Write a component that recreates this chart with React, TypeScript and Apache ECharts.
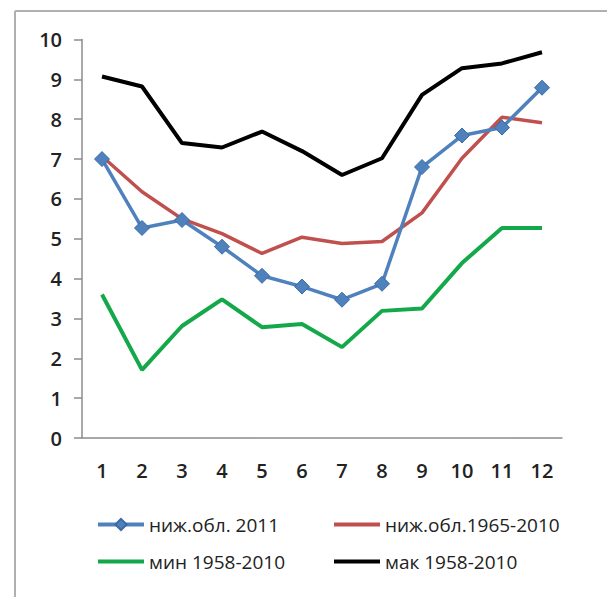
import React, { useEffect, useRef } from "react";
import * as echarts from "echarts";

const months = ["1", "2", "3", "4", "5", "6", "7", "8", "9", "10", "11", "12"];
const yTicks = [0, 1, 2, 3, 4, 5, 6, 7, 8, 9, 10];
const lower2011 = [7.0, 5.27, 5.47, 4.8, 4.07, 3.8, 3.47, 3.87, 6.8, 7.59, 7.79, 8.79];
const lower1965 = [7.07, 6.18, 5.5, 5.13, 4.63, 5.04, 4.88, 4.93, 5.65, 7.02, 8.05, 7.91];
const min1958 = [3.6, 1.71, 2.81, 3.48, 2.78, 2.86, 2.28, 3.19, 3.25, 4.39, 5.27, 5.27];
const max1958 = [9.07, 8.82, 7.4, 7.29, 7.69, 7.2, 6.6, 7.02, 8.61, 9.28, 9.4, 9.68];
const seriesNames = ["ниж.обл. 2011", "ниж.обл.1965-2010", "мин 1958-2010", "мак 1958-2010"];

export default function App() {
  const ref = useRef<HTMLDivElement>(null);
  useEffect(() => {
    if (!ref.current) return;
    const chart = echarts.init(ref.current, null, { renderer: "svg" });
    const axisColor = "#8c8c8c";
    const labelFont = { fontFamily: "Open Sans", fontSize: 20, fontWeight: 600, color: "#222" };
    const legendText = { fontFamily: "Open Sans", fontSize: 19, fontWeight: 500, color: "#222" };
    const plainItem = (name: string) => ({ name, itemStyle: { opacity: 0 } });
    chart.setOption({
      animation: false,
      backgroundColor: "#fff",
      grid: { left: 82, right: 45, top: 39.5, bottom: 159 },
      xAxis: {
        type: "category",
        data: months,
        boundaryGap: true,
        axisLine: { lineStyle: { color: axisColor, width: 1.5 } },
        axisTick: { alignWithLabel: false, length: 8, lineStyle: { color: axisColor, width: 1.5 } },
        axisLabel: { ...labelFont, margin: 22 },
      },
      yAxis: {
        type: "value",
        min: yTicks[0],
        max: yTicks[yTicks.length - 1],
        interval: 1,
        axisLine: { show: true, lineStyle: { color: axisColor, width: 1.5 } },
        axisTick: { show: true, length: 8, lineStyle: { color: axisColor, width: 1.5 } },
        splitLine: { show: false },
        axisLabel: { ...labelFont, margin: 20 },
      },
      legend: [
        {
          orient: "vertical",
          left: 91,
          top: 510,
          itemWidth: 46,
          itemHeight: 14,
          itemGap: 18,
          lineStyle: { width: 4 },
          textStyle: legendText,
          data: [seriesNames[0], plainItem(seriesNames[2])],
        },
        {
          orient: "vertical",
          left: 327,
          top: 510,
          itemWidth: 46,
          itemHeight: 14,
          itemGap: 18,
          lineStyle: { width: 4 },
          textStyle: legendText,
          data: [plainItem(seriesNames[1]), plainItem(seriesNames[3])],
        },
      ],
      graphic: [
        { type: "line", shape: { x1: 15, y1: 11, x2: 607, y2: 11 }, style: { stroke: "#b0b0b0", lineWidth: 2 } },
        { type: "line", shape: { x1: 15, y1: 11, x2: 15, y2: 597 }, style: { stroke: "#b0b0b0", lineWidth: 2 } },
      ],
      series: [
        {
          name: seriesNames[3],
          type: "line",
          data: max1958,
          symbol: "none",
          lineStyle: { color: "#000", width: 4 },
          itemStyle: { color: "#000" },
          z: 2,
        },
        {
          name: seriesNames[2],
          type: "line",
          data: min1958,
          symbol: "none",
          lineStyle: { color: "#13a84a", width: 4 },
          itemStyle: { color: "#13a84a" },
          z: 2,
        },
        {
          name: seriesNames[1],
          type: "line",
          data: lower1965,
          symbol: "none",
          lineStyle: { color: "#c0504d", width: 3.5 },
          itemStyle: { color: "#c0504d" },
          z: 3,
        },
        {
          name: seriesNames[0],
          type: "line",
          data: lower2011,
          symbol: "diamond",
          symbolSize: 15,
          lineStyle: { color: "#4f81bd", width: 3.5 },
          itemStyle: { color: "#4f81bd", borderColor: "#3b6aa5", borderWidth: 1 },
          z: 4,
        },
      ],
    });
    return () => chart.dispose();
  }, []);
  return (
    <div
      ref={ref}
      style={{ position: "fixed", left: 0, top: 0, width: 607, height: 597, background: "#fff" }}
    />
  );
}
